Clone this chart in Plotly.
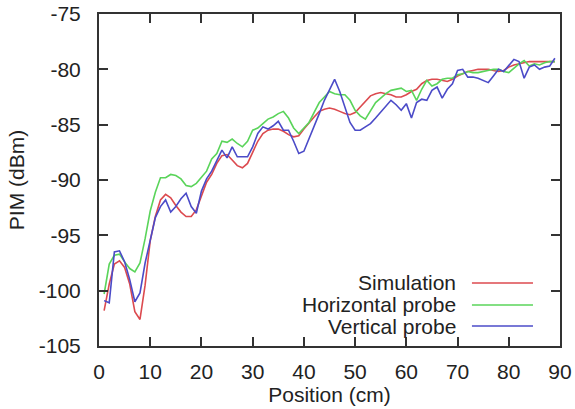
import plotly.graph_objects as go

position = list(range(1, 90))

simulation = [
    -101.8, -99.4, -97.6, -97.3, -97.9, -99.4, -101.9, -102.6, -99.5, -95.5,
    -93.3, -91.8, -91.3, -91.6, -92.3, -92.9, -93.3, -93.3, -92.7, -91.5,
    -90.2, -89.5, -88.5, -87.8, -87.7, -88.2, -88.7, -88.9, -88.5, -87.5,
    -86.5, -85.8, -85.5, -85.4, -85.4, -85.6, -85.9, -86.1, -86.0, -85.4,
    -84.8, -84.3, -83.8, -83.6, -83.5, -83.6, -83.8, -84.0, -84.1, -83.9,
    -83.4, -82.9, -82.4, -82.2, -82.1, -82.2, -82.3, -82.5, -82.5, -82.3,
    -82.0, -81.8, -81.3, -81.0, -80.9, -80.9, -81.0, -81.1, -80.9, -80.6,
    -80.4, -80.2, -80.1, -80.0, -80.0, -80.0, -80.1, -80.2, -80.1, -79.8,
    -79.6, -79.5, -79.4, -79.3, -79.3, -79.3, -79.3, -79.3, -79.3,
]

horizontal = [
    -100.3, -97.6, -96.8, -96.7, -97.4, -98.0, -98.3, -97.5, -95.3, -92.8,
    -91.1, -89.8, -89.8, -89.5, -89.6, -89.9, -90.5, -90.6, -90.3, -89.8,
    -89.2, -88.1, -87.6, -86.5, -86.6, -86.3, -86.7, -87.0, -86.5, -85.5,
    -85.3, -84.9, -84.5, -84.3, -84.0, -83.8, -84.4, -85.3, -85.8, -85.3,
    -84.8, -83.9, -83.0, -82.5, -82.0, -82.2, -82.3, -82.3, -82.8, -83.7,
    -84.2, -84.5, -83.8, -83.0, -82.6, -82.2, -81.9, -81.8, -81.7, -82.0,
    -81.9, -82.8, -81.8, -81.0, -81.5, -81.3, -80.9, -80.8, -80.8, -80.5,
    -80.4, -80.2, -80.3, -80.3, -80.2, -80.1, -80.0, -80.0, -80.2, -80.3,
    -79.9, -79.5, -79.2, -79.7, -79.5, -79.6, -79.4, -79.3, -79.3,
]

vertical = [
    -100.9, -101.1, -96.5, -96.4, -97.4, -99.0, -101.0, -100.2, -97.5, -95.3,
    -93.4, -92.4, -91.8, -92.9, -92.4, -91.7, -91.2, -92.4, -93.0, -91.0,
    -89.9, -89.2, -88.2, -87.3, -88.0, -87.0, -87.9, -87.9, -87.9, -87.0,
    -85.8, -85.2, -85.4, -85.1, -84.7, -85.5, -85.5, -86.5, -87.6, -87.4,
    -86.3, -85.1, -84.0, -82.8, -81.9, -80.9, -82.0, -83.5, -84.8, -85.5,
    -85.5, -85.2, -84.9, -84.4, -83.9, -83.3, -82.8, -83.2, -83.7, -83.1,
    -84.4, -83.0, -82.7, -82.8, -81.9, -81.6, -82.6, -81.8, -81.3, -80.1,
    -80.0, -80.7, -80.7, -80.8, -81.0, -81.2, -80.6, -80.0, -80.2, -79.6,
    -79.1, -79.3, -80.8, -79.8, -79.6, -80.0, -79.8, -79.7, -79.0,
]

series_names = ["Simulation", "Horizontal probe", "Vertical probe"]
series_colors = ["#dc4a4f", "#5ad45a", "#4b4bc8"]

x_ticks = [0, 10, 20, 30, 40, 50, 60, 70, 80, 90]
x_ticklabels = ["0", "10", "20", "30", "40", "50", "60", "70", "80", "90"]
y_ticks = [-75, -80, -85, -90, -95, -100, -105]
y_ticklabels = ["-75", "-80", "-85", "-90", "-95", "-100", "-105"]

FONT = "Liberation Sans, Arial, Helvetica, sans-serif"
TXT = "#222222"
AX = "#333333"
FS = 21

fig = go.Figure()
for name, vals, col in zip(series_names, [simulation, horizontal, vertical], series_colors):
    fig.add_trace(go.Scatter(x=position, y=vals, mode="lines", name=name,
                             line=dict(color=col, width=1.6), showlegend=False))

axis_common = dict(showline=True, linecolor=AX, linewidth=2, mirror="allticks",
                   ticks="inside", ticklen=9, tickwidth=2, tickcolor=AX,
                   showgrid=False, zeroline=False, automargin=False,
                   tickfont=dict(family=FONT, size=FS, color=TXT))

fig.update_xaxes(range=[0, 90], tickvals=x_ticks, ticktext=x_ticklabels,
                 title=dict(text="Position (cm)", font=dict(family=FONT, size=FS, color=TXT), standoff=2),
                 ticklabelstandoff=6, **axis_common)
fig.update_yaxes(range=[-105, -75], tickvals=y_ticks, ticktext=y_ticklabels,
                 title=dict(text="PIM (dBm)", font=dict(family=FONT, size=FS, color=TXT), standoff=8),
                 ticklabelstandoff=12, **axis_common)

# custom gnuplot-style legend: text on left, line sample on right
leg_y = [0.1898, 0.1235, 0.0602]
for name, col, yy in zip(series_names, series_colors, leg_y):
    fig.add_annotation(xref="paper", yref="paper", x=0.7787, y=yy, text=name,
                       showarrow=False, xanchor="right", yanchor="middle",
                       font=dict(family=FONT, size=FS, color=TXT))
    fig.add_shape(type="line", xref="paper", yref="paper", x0=0.809, x1=0.9414,
                  y0=yy, y1=yy, line=dict(color=col, width=1.6))

fig.update_layout(width=575, height=409, margin=dict(l=99, r=15, t=14, b=63),
                  plot_bgcolor="white", paper_bgcolor="white",
                  font=dict(family=FONT, size=FS, color=TXT))

fig.write_html("out.html", config={"displayModeBar": False},
               post_script="document.body.style.margin='0';")
